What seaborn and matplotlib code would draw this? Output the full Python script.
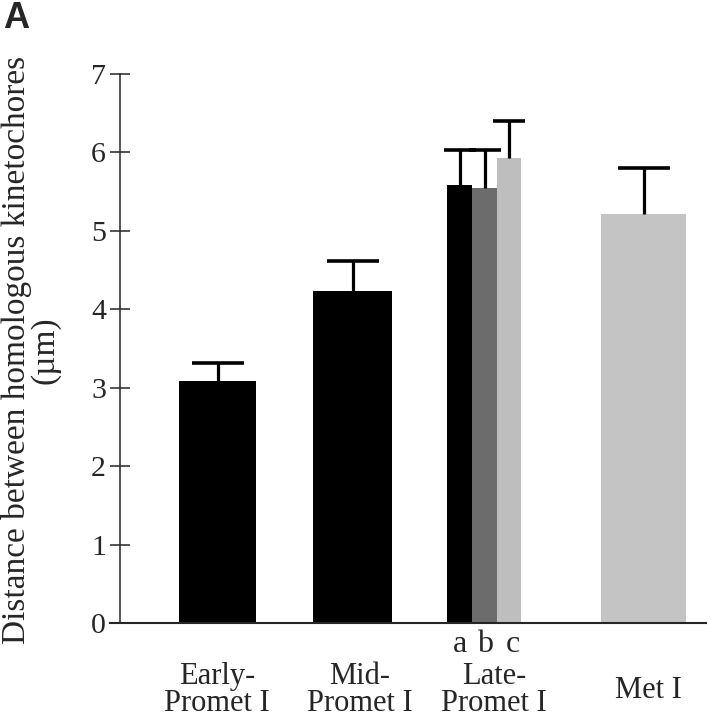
import numpy as np
import pandas as pd
import seaborn as sns
import matplotlib.pyplot as plt
from matplotlib.transforms import blended_transform_factory

# data
bars = ['Early', 'Mid', 'Late a', 'Late b', 'Late c', 'Met']
means = [3.08, 4.23, 5.58, 5.55, 5.93, 5.21]
err_top = [3.31, 4.61, 6.03, 6.03, 6.40, 5.80]
colors = ['#000000', '#000000', '#000000', '#6c6c6c', '#bebebe', '#c4c4c4']

groups = ['Early-\nPromet I', 'Mid-\nPromet I', 'Late-\nPromet I', 'Met I']
sub_labels = ['a', 'b', 'c']

# layout (x in pixel-like units of the original picture)
centers = [217.5, 352.5, 459.5, 484.5, 509.0, 643.5]
widths = [77, 79, 25, 25, 24, 85]
group_x = [217, 360, 494, 648]

sns.set_style('white')
plt.rcParams['font.family'] = ['Liberation Serif', 'DejaVu Serif']

fig = plt.figure(figsize=(7.11, 7.19), dpi=100)
ax = fig.add_axes([110 / 711, 1 - 623 / 719, (706 - 110) / 711, (623 - 74) / 719])

df = pd.DataFrame({'bar': bars, 'mean': means})
sns.barplot(data=df, x='bar', y='mean', hue='bar', palette=colors, legend=False,
            order=bars, errorbar=None, saturation=1, ax=ax)

# move the bars to their spots
for p, c, w in zip(ax.patches, centers, widths):
    p.set_x(c - w / 2)
    p.set_width(w)
    p.set_edgecolor('none')

up = np.array(err_top) - np.array(means)
low = np.zeros(len(means))
wide = [0, 1, 5]
narrow = [2, 3, 4]
for idx, cap in [(wide, 19), (narrow, 11.5)]:
    eb = ax.errorbar([centers[i] for i in idx], [means[i] for i in idx],
                     yerr=[low[idx], up[idx]], fmt='none', ecolor='black',
                     elinewidth=2.3, capsize=cap, capthick=2.6, zorder=1)
    eb[1][0].set_visible(False)  # only the upper cap

ax.set_xlim(110, 706)
ax.set_ylim(0, 7)
ax.set_yticks(range(0, 8))
ax.set_xticks([])
ax.set_xlabel('')
ax.set_ylabel('')
sns.despine(ax=ax)
ax.spines['left'].set_position(('data', 120))
ax.spines['left'].set_linewidth(1.1)
ax.spines['bottom'].set_linewidth(1.5)
ax.tick_params(axis='y', direction='inout', length=14, width=1.1, pad=3,
               labelsize=21.5, left=True)

tr = blended_transform_factory(ax.transData, fig.transFigure)
for x, lab in zip(group_x[:3], groups[:3]):
    ax.text(x, 1 - 690 / 719, lab, transform=tr, ha='center', va='center',
            fontsize=22, linespacing=0.92)
ax.text(group_x[3], 1 - 690 / 719, groups[3], transform=tr, ha='center',
        va='center', fontsize=22)
for x, lab in zip([460, 485, 513], sub_labels):
    ax.text(x, 1 - 652 / 719, lab, transform=tr, ha='center', va='baseline',
            fontsize=23)

fig.text(31 / 711, 1 - 350 / 719,
         'Distance between homologous kinetochores\n(\u00b5m)',
         rotation=90, ha='center', va='center', fontsize=24, linespacing=0.92)

fig.text(3 / 711, 1 - 1 / 719, 'A', fontsize=26, fontweight='bold',
         family='Liberation Sans', ha='left', va='top')

fig.savefig('out.png', dpi=100)
